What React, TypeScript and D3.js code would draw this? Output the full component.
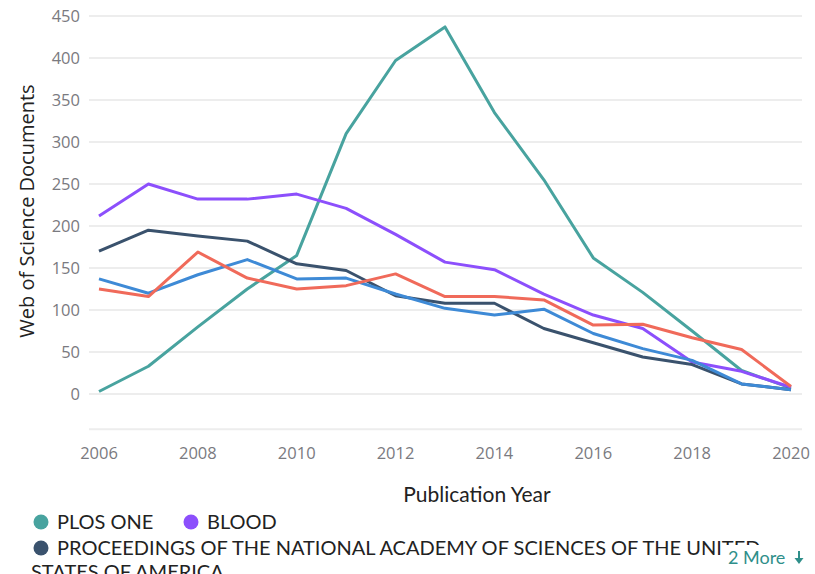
import * as d3 from "d3";
import React from "react";

const years = [2006, 2007, 2008, 2009, 2010, 2011, 2012, 2013, 2014, 2015, 2016, 2017, 2018, 2019, 2020];

const plosOne = [3, 33, 80, 125, 165, 310, 397, 437, 335, 255, 162, 121, 75, 28, 7];
const blood = [212, 250, 232, 232, 238, 221, 190, 157, 148, 119, 94, 78, 38, 27, 8];
const pnas = [170, 195, 188, 182, 155, 147, 117, 108, 108, 78, 61, 44, 35, 12, 5];
const moreA = [137, 120, 142, 160, 137, 138, 119, 102, 94, 101, 72, 54, 40, 12, 5];
const moreB = [125, 116, 169, 138, 125, 129, 143, 116, 116, 112, 82, 83, 67, 53, 9];

const yTicks = [0, 50, 100, 150, 200, 250, 300, 350, 400, 450];
const xTicks = [2006, 2008, 2010, 2012, 2014, 2016, 2018, 2020];

const series = [
  { name: "PLOS ONE", values: plosOne, color: "#48a39f" },
  { name: "BLOOD", values: blood, color: "#8c4ffc" },
  { name: "PROCEEDINGS OF THE NATIONAL ACADEMY OF SCIENCES OF THE UNITED STATES OF AMERICA", values: pnas, color: "#3a526d" },
  { name: "More 1", values: moreA, color: "#3e8ad6" },
  { name: "More 2", values: moreB, color: "#f06a5a" },
];

const WIDTH = 815;
const HEIGHT = 574;
const tickFont = "'Open Sans', 'Noto Sans', sans-serif";
const labelFont = "Lato, sans-serif";

export default function App() {
  const x = d3.scaleLinear().domain([2006, 2020]).range([99, 791]);
  const y = d3.scaleLinear().domain([0, 450]).range([394, 16]);
  const line = d3
    .line<number>()
    .x((_, i) => x(years[i]))
    .y((d) => y(d));

  const gridLeft = 89;
  const gridRight = 802;

  return (
    <svg
      width={WIDTH}
      height={HEIGHT}
      style={{ position: "fixed", left: 0, top: 0, background: "#fff" }}
    >
      {/* grid */}
      {yTicks.map((t) => (
        <line key={t} x1={gridLeft} x2={gridRight} y1={y(t)} y2={y(t)} stroke="#ededed" strokeWidth={2} />
      ))}
      <line x1={gridLeft} x2={gridRight} y1={y(-42)} y2={y(-42)} stroke="#ededed" strokeWidth={2} />

      {/* y ticks */}
      {yTicks.map((t) => (
        <text key={t} x={80} y={y(t)} dy="0.35em" textAnchor="end" fontSize={16.5} fill="#7a7a80" fontFamily={tickFont}>
          {t}
        </text>
      ))}
      {/* x ticks */}
      {xTicks.map((t) => (
        <text key={t} x={x(t)} y={453} dy="0.35em" textAnchor="middle" fontSize={16.5} fill="#7a7a80" fontFamily={tickFont}>
          {t}
        </text>
      ))}

      <text
        transform={`translate(27, 211) rotate(-90)`}
        textAnchor="middle"
        dy="0.35em"
        fontSize={20}
        fill="#222"
        fontFamily={tickFont}
      >
        Web of Science Documents
      </text>
      <text x={477} y={495} dy="0.35em" textAnchor="middle" fontSize={21} fill="#222" fontFamily={labelFont}>
        Publication Year
      </text>

      {/* lines */}
      {series.map((s) => (
        <path key={s.name} d={line(s.values) ?? ""} fill="none" stroke={s.color} strokeWidth={3} strokeLinejoin="round" />
      ))}

      {/* legend */}
      <g fontFamily={labelFont} fontSize={20} fill="#222">
        <circle cx={41} cy={522} r={7.5} fill={series[0].color} />
        <text x={57} y={522} dy="0.35em">{series[0].name}</text>
        <circle cx={191} cy={522} r={7.5} fill={series[1].color} />
        <text x={207} y={522} dy="0.35em">{series[1].name}</text>
        <circle cx={41} cy={548} r={7.5} fill={series[2].color} />
        <text x={57} y={548} dy="0.35em">
          PROCEEDINGS OF THE NATIONAL ACADEMY OF SCIENCES OF THE UNITED
        </text>
        <text x={31} y={572} dy="0.35em">STATES OF AMERICA</text>
      </g>
      <rect x={724} y={545} width={91} height={29} fill="#fff" />
      <text x={728} y={558} dy="0.35em" fontSize={18} fill="#2f8f8a" fontFamily={labelFont}>
        2 More
      </text>
      <g transform="translate(799, 557)" fill="#2f8f8a">
        <rect x={-1} y={-6} width={2} height={9} />
        <path d="M-4.5,1 L4.5,1 L0,7 Z" />
      </g>
    </svg>
  );
}
